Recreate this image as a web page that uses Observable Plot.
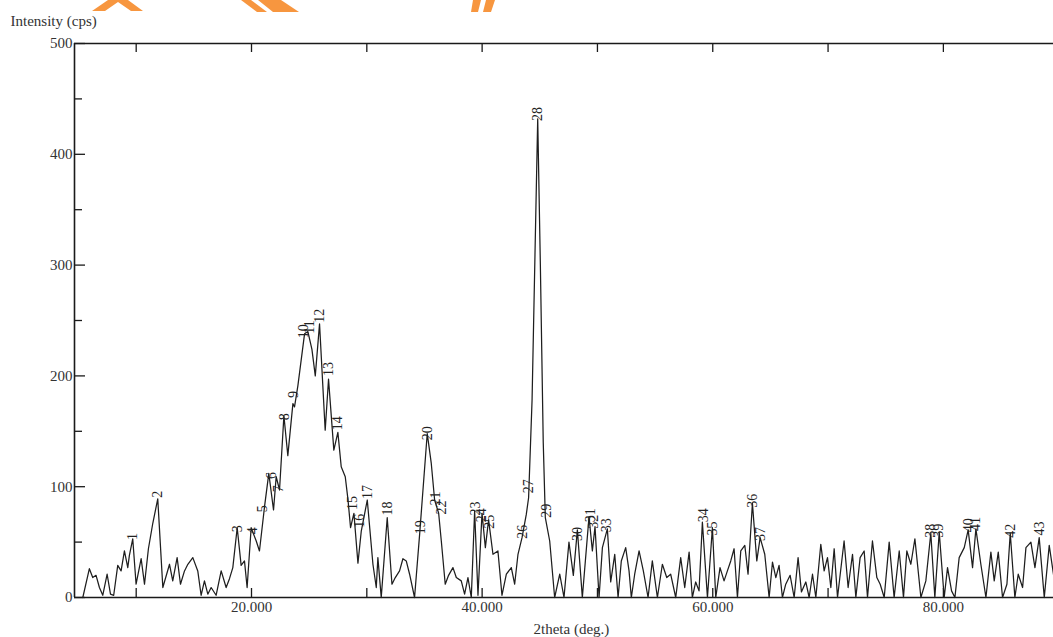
<!DOCTYPE html>
<html>
<head>
<meta charset="utf-8">
<script src="https://cdn.jsdelivr.net/npm/d3@7"></script>
<script src="https://cdn.jsdelivr.net/npm/@observablehq/plot@0.6"></script>
<style>
  html, body { margin: 0; padding: 0; background: #fff; }
  #wrap { position: relative; width: 1053px; height: 637px; overflow: hidden; }
  #wm { position: absolute; left: 0; top: 0; }
</style>
</head>
<body>
<div id="wrap">
  <div id="chart"></div>
  <svg id="wm" width="1053" height="20">
    <polygon fill="#F7963F" points="92,11 108,0 128,0 143,11 131,11 118,2 105,11"/>
    <polygon fill="#F7963F" points="241,0 251,0 267,12 257,12"/>
    <polygon fill="#F7963F" points="258,0 281,0 299,12 273,12"/>
    <polygon fill="#F7963F" points="473,0 481,0 478,12 471,12"/>
    <polygon fill="#F7963F" points="486,0 495,0 491,12 483,12"/>
  </svg>
</div>
<script>
// ---- data ----
const twoTheta = [
  5.37, 5.94, 6.23, 6.52, 6.81, 7.10, 7.48, 7.77, 8.05, 8.40, 8.69, 8.98, 9.27, 9.41, 9.70, 9.99,
  10.43, 10.72, 11.06, 11.44, 11.87, 12.31, 12.89, 13.17, 13.55, 13.84, 14.19, 14.48, 14.91, 15.34,
  15.63, 15.92, 16.21, 16.50, 16.93, 17.37, 17.80, 18.09, 18.38, 18.76, 19.10, 19.39, 19.62, 19.97,
  20.41, 20.69, 21.13, 21.50, 21.91, 22.14, 22.43, 22.81, 23.15, 23.59, 23.73, 24.02, 24.60, 24.89,
  25.24, 25.53, 25.90, 26.39, 26.68, 27.14, 27.49, 27.78, 28.13, 28.36, 28.59, 28.88, 29.23, 29.52,
  30.04, 30.53, 30.82, 30.96, 31.25, 31.77, 32.18, 32.47, 32.84, 33.13, 33.42, 33.71, 34.14, 34.58,
  35.24, 35.59, 35.88, 36.23, 36.46, 36.80, 37.09, 37.47, 37.76, 38.19, 38.48, 38.77, 39.06, 39.35,
  39.64, 39.99, 40.28, 40.56, 40.94, 41.37, 41.72, 42.10, 42.53, 42.82, 43.11, 43.46, 43.83, 44.03,
  44.33, 44.82, 45.05, 45.30, 45.48, 45.86, 46.29, 46.73,
  47.10, 47.53, 47.91, 48.26, 48.69, 49.27, 49.56, 49.79, 50.14, 50.43, 50.86, 51.15, 51.50, 51.79,
  52.07, 52.45, 52.74, 52.94, 53.23, 53.61, 53.98, 54.39, 54.76, 55.20, 55.63, 56.01, 56.35, 56.79,
  57.22, 57.57, 57.95, 58.23, 58.52, 58.81, 59.10, 59.54, 59.97, 60.26, 60.63, 60.98, 61.27, 61.56,
  61.85, 62.14, 62.43, 62.78, 63.06, 63.44, 63.82, 64.11, 64.51, 64.89, 65.18, 65.47, 65.75, 66.04,
  66.33, 66.71, 67.06, 67.40, 67.69, 68.07, 68.36, 68.65, 68.94, 69.37, 69.66, 69.95, 70.24, 70.53,
  70.82, 71.39, 71.74, 72.12, 72.41, 72.78, 73.13, 73.42, 73.85, 74.23, 74.52, 74.87, 75.30, 75.73,
  76.17, 76.54, 76.83, 77.18, 77.53, 78.05, 78.48, 78.91, 79.26, 79.64, 80.07, 80.36, 80.71, 81.00,
  81.37, 81.81, 82.15, 82.53, 82.82, 83.25, 83.69, 84.12, 84.41, 84.76, 85.13, 85.51, 85.80, 86.20,
  86.49, 86.87, 87.16, 87.59, 87.94, 88.31, 88.75, 89.18, 89.59
];
const intensity = [
  0, 26, 18, 20, 9, 2, 21, 3, 2, 29, 24, 42, 27, 38, 53, 12,
  35, 12, 44, 67, 89, 9, 30, 15, 36, 12, 24, 30, 36, 24,
  2, 15, 3, 9, 2, 24, 9, 17, 27, 63, 29, 33, 9, 63,
  51, 42, 82, 112, 79, 109, 97, 164, 128, 175, 172, 191, 238, 240,
  224, 200, 247, 151, 197, 133, 149, 118, 109, 89, 63, 76, 31, 60,
  88, 30, 9, 36, 0, 72, 12, 18, 24, 35, 33, 21, 0, 57,
  148, 121, 88, 76, 51, 12, 20, 27, 18, 15, 3, 18, 0, 78,
  2, 76, 45, 70, 39, 42, 2, 21, 27, 12, 39, 54, 75, 90,
  178, 432, 300, 140, 72, 51, 0, 21,
  0, 50, 20, 61, 0, 73, 42, 64, 0, 45, 62, 14, 39, 0,
  33, 45, 24, 0, 21, 42, 24, 0, 33, 0, 30, 18, 21, 0,
  36, 9, 41, 0, 14, 6, 68, 0, 63, 0, 27, 15, 24, 33,
  44, 0, 42, 47, 21, 85, 33, 54, 39, 0, 32, 18, 29, 0,
  12, 20, 0, 36, 5, 14, 0, 21, 0, 48, 24, 36, 9, 44,
  0, 51, 9, 39, 0, 36, 42, 0, 51, 18, 12, 0, 50, 0,
  42, 0, 42, 30, 53, 0, 15, 58, 0, 59, 0, 27, 6, 0,
  36, 45, 61, 27, 62, 30, 0, 41, 15, 41, 0, 12, 58, 0,
  21, 9, 45, 50, 27, 54, 0, 47, 18
];
const peakNo = d3.range(1, 44);
const peakTheta = [
  9.70, 11.87, 18.76, 20.06, 20.98, 21.71, 22.34, 22.86, 23.64, 24.54, 25.03, 25.90, 26.68, 27.49,
  28.79, 29.37, 30.09, 31.83, 34.66, 35.24, 35.94, 36.52, 39.41, 39.99, 40.65, 43.46, 43.98, 44.82,
  45.57, 48.26, 49.36, 49.66, 50.80, 59.19, 59.97, 63.44, 64.11, 78.91, 79.58, 82.15, 82.82, 85.85, 88.31
];
const peakLabelY = [
  52, 90, 59, 57, 77, 107, 95, 160, 180, 234, 238, 248, 200, 151,
  79, 63, 89, 74, 57, 142, 83, 75, 74, 68, 62, 53, 94, 430,
  72, 51, 68, 62, 59, 68, 56, 81, 51, 54, 54, 59, 60, 54, 56
];
const xDomain = [4.65, 89.55];
const yDomain = [0, 500];
const xMajorTicks = [20, 40, 60, 80];
const xAllTicks = [10, 20, 30, 40, 50, 60, 70, 80];
const yMajorTicks = [0, 100, 200, 300, 400, 500];
const yMinorTicks = [50, 150, 250, 350, 450];
const xTitle = "2theta (deg.)";
const yTitle = "Intensity (cps)";

// ---- build ----
const points = twoTheta.map((t, i) => ({t, v: intensity[i]}));
const peaks = peakNo.map((n, i) => ({n: String(n), t: peakTheta[i], v: peakLabelY[i]}));

const W = 1053, H = 637, mL = 74, mR = 0, mT = 43, mB = 40;
const innerW = W - mL - mR, innerH = H - mT - mB;
const axisColor = "#1a1a1a";

const chart = Plot.plot({
  width: W, height: H,
  marginLeft: mL, marginRight: mR, marginTop: mT, marginBottom: mB,
  x: {domain: xDomain},
  y: {domain: yDomain},
  style: {fontFamily: "'Liberation Serif', 'DejaVu Serif', serif", fontSize: "15px", color: "#333", background: "#fff", overflow: "visible"},
  marks: [
    Plot.ruleX([xDomain[0]], {stroke: axisColor, strokeWidth: 1.6}),
    Plot.ruleY([yDomain[0]], {stroke: axisColor, strokeWidth: 1.6}),
    Plot.ruleY([yDomain[1]], {stroke: axisColor, strokeWidth: 1.3}),
    Plot.tickX(xAllTicks, {x: d => d, stroke: axisColor, strokeWidth: 1.3, insetTop: innerH - 9}),
    Plot.tickX(xAllTicks, {x: d => d, stroke: axisColor, strokeWidth: 1.3, insetBottom: innerH - 9}),
    Plot.tickY(yMajorTicks, {y: d => d, stroke: axisColor, strokeWidth: 1.3, insetRight: innerW - 11}),
    Plot.tickY(yMinorTicks, {y: d => d, stroke: axisColor, strokeWidth: 1.3, insetRight: innerW - 8}),
    Plot.axisX({ticks: xMajorTicks, tickSize: 0, tickPadding: 4, tickFormat: d => d.toFixed(3), label: null}),
    Plot.axisY({ticks: yMajorTicks, tickSize: 0, tickPadding: 2, tickFormat: d => String(d), label: null}),
    Plot.line(points, {x: "t", y: "v", stroke: "#1e1e1e", strokeWidth: 1.25}),
    Plot.text(peaks, {x: "t", y: "v", text: "n", rotate: -90, textAnchor: "start", lineAnchor: "middle",
      fontSize: 14, fill: "#222"}),
    Plot.text([yTitle], {frameAnchor: "top-left", dx: -(mL - 10), dy: -22, textAnchor: "start", lineAnchor: "middle", fontSize: 15, fill: "#333"}),
    Plot.text([xTitle], {frameAnchor: "bottom-left", dx: 459, dy: 32, textAnchor: "start", lineAnchor: "middle", fontSize: 15, fill: "#333"})
  ]
});
document.getElementById("chart").appendChild(chart);
</script>
</body>
</html>
